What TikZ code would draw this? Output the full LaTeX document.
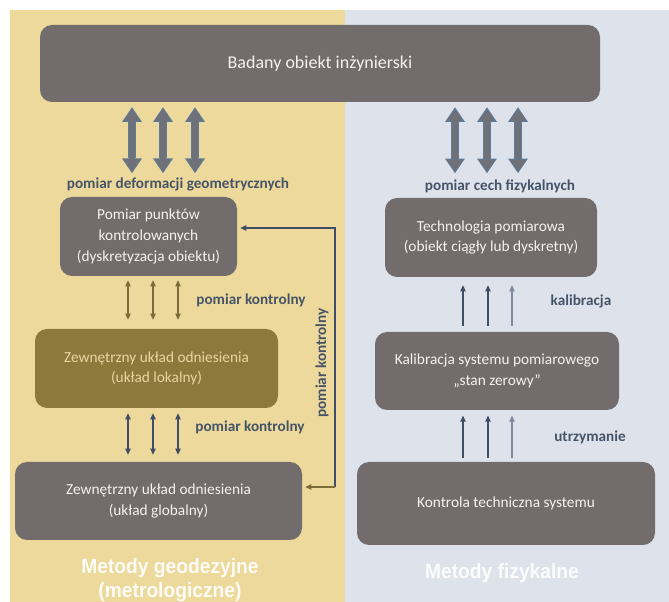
\documentclass[tikz,border=0pt]{standalone}
\usepackage{fontspec}
\setmainfont{Carlito}
\newfontfamily\metfont[FakeStretch=0.93]{Liberation Sans}
\usetikzlibrary{arrows.meta, positioning}

\definecolor{leftbg}{HTML}{EDD99B}
\definecolor{rightbg}{HTML}{DEE3EB}
\definecolor{boxgray}{HTML}{736C6C}
\definecolor{boxtext}{HTML}{F4F1EE}
\definecolor{lokfill}{HTML}{8C7A3C}
\definecolor{loktext}{HTML}{E8D6A0}
\definecolor{lblblue}{HTML}{465468}
\definecolor{arrgray}{HTML}{6E7278}
\definecolor{arredge}{HTML}{5A7DA0}
\definecolor{olivearr}{HTML}{7C6C3A}
\definecolor{bluearr}{HTML}{3F4D66}
\definecolor{liteblue}{HTML}{7E8AA0}

\tikzset{
	box/.style={rounded corners=9pt, fill=boxgray, text=boxtext, align=center,
		inner sep=0pt, font=\fontsize{11.5}{15.5}\selectfont},
	lbl/.style={text=lblblue, inner sep=1pt, font=\bfseries\fontsize{11.4}{13}\selectfont},
	metod/.style={align=center, font=\metfont\bfseries\fontsize{15.5}{18}\selectfont},
	bigedge/.style={line width=6.6pt, draw=arredge,
		{Triangle[length=11pt,width=15pt,line width=0pt]}-{Triangle[length=11pt,width=15pt,line width=0pt]}},
	bigfill/.style={line width=5pt, draw=arrgray,
		{Triangle[length=9.4pt,width=12.6pt,line width=0pt]}-{Triangle[length=9.4pt,width=12.6pt,line width=0pt]}},
	thin/.style={line width=0.8pt},
	smalltip/.tip={Triangle[length=4.5pt,width=4pt]}
}

\begin{document}
\begin{tikzpicture}[x=0.75pt, y=-0.75pt]
	\useasboundingbox (0,0) rectangle (669,602);
	% backgrounds
	\fill[leftbg] (10,10) rectangle (345,602);
	\fill[rightbg] (345,10) rectangle (669,602);

	% boxes
	\node[box, minimum width=420pt, minimum height=57.75pt, font=\fontsize{13.5}{16}\selectfont]
		(top) at (320,63.5) {Badany obiekt inżynierski};
	\node[box, minimum width=132.75pt, minimum height=59.25pt] (pkt) at (148.5,236.5)
		{Pomiar punktów\\kontrolowanych\\(dyskretyzacja obiektu)};
	\node[box, fill=lokfill, text=loktext, minimum width=182.25pt, minimum height=59.25pt]
		(lok) at (156.5,368.5) {Zewnętrzny układ odniesienia\\(układ lokalny)};
	\node[box, minimum width=215.25pt, minimum height=58.5pt] (glob) at (158.5,501)
		{Zewnętrzny układ odniesienia\\(układ globalny)};
	\node[box, minimum width=159pt, minimum height=59.25pt] (tech) at (491,237.5)
		{Technologia pomiarowa\\(obiekt ciągły lub dyskretny)};
	\node[box, minimum width=183pt, minimum height=58.5pt] (kal) at (497,371)
		{Kalibracja systemu pomiarowego\\„stan zerowy”};
	\node[box, minimum width=223.5pt, minimum height=62.25pt] (kontr) at (506,503.5)
		{Kontrola techniczna systemu};

	% labels
	\node[lbl] (defo) at (178,184) {pomiar deformacji geometrycznych};
	\node[lbl] (cech) at (500,186) {pomiar cech fizykalnych};
	\node[lbl] (kon1) at (251,300) {pomiar kontrolny};
	\node[lbl] (kon2) at (250,427) {pomiar kontrolny};
	\node[lbl, rotate=90] (kon3) at (322,363) {pomiar kontrolny};
	\node[lbl] (kalib) at (581,301) {kalibracja};
	\node[lbl] (utrz) at (590,437) {utrzymanie};
	\node[metod, text=white!92!leftbg] (geo) at (170,580) {Metody geodezyjne\\(metrologiczne)};
	\node[metod, text=white!90!rightbg] (fiz) at (502,573) {Metody fizykalne};

	% big arrows
	\foreach \x in {132,163,195} {
		\draw[bigedge, shorten <=3.75pt, shorten >=2pt] (top.south -| \x,0) -- (defo.north -| \x,0);
		\draw[bigfill, shorten <=4.8pt, shorten >=3pt] (top.south -| \x,0) -- (defo.north -| \x,0);
	}
	\foreach \x in {455,487,518} {
		\draw[bigedge, shorten <=3.75pt, shorten >=3.5pt] (top.south -| \x,0) -- (cech.north -| \x,0);
		\draw[bigfill, shorten <=4.8pt, shorten >=4.5pt] (top.south -| \x,0) -- (cech.north -| \x,0);
	}

	% small arrows, left
	\foreach \x in {128,153,178} {
		\draw[thin, olivearr, smalltip-smalltip, shorten <=3pt, shorten >=6.75pt] (pkt.south -| \x,0) -- (lok.north -| \x,0);
		\draw[thin, bluearr, smalltip-smalltip, shorten <=3.75pt, shorten >=5.25pt] (lok.south -| \x,0) -- (glob.north -| \x,0);
	}
	% small arrows, right
	\foreach \x/\c in {463/bluearr,488/bluearr,512/liteblue} {
		\draw[thin, \c, -smalltip, shorten <=4.5pt, shorten >=6pt] (kal.north -| \x,0) -- (tech.south -| \x,0);
		\draw[thin, \c, -smalltip, shorten <=3pt, shorten >=4pt] (kontr.north -| \x,0) -- (kal.south -| \x,0);
	}

	% feedback line
	\coordinate (fbtop) at (335,228);
	\coordinate (fbbot) at (335,487);
	\draw[thin, bluearr, -smalltip, shorten >=2.25pt] (fbbot) -- (fbtop) -- (fbtop -| pkt.east);
	\draw[thin, olivearr, -smalltip, shorten >=2.25pt] (fbbot) -- (fbbot -| glob.east);
\end{tikzpicture}
\end{document}
